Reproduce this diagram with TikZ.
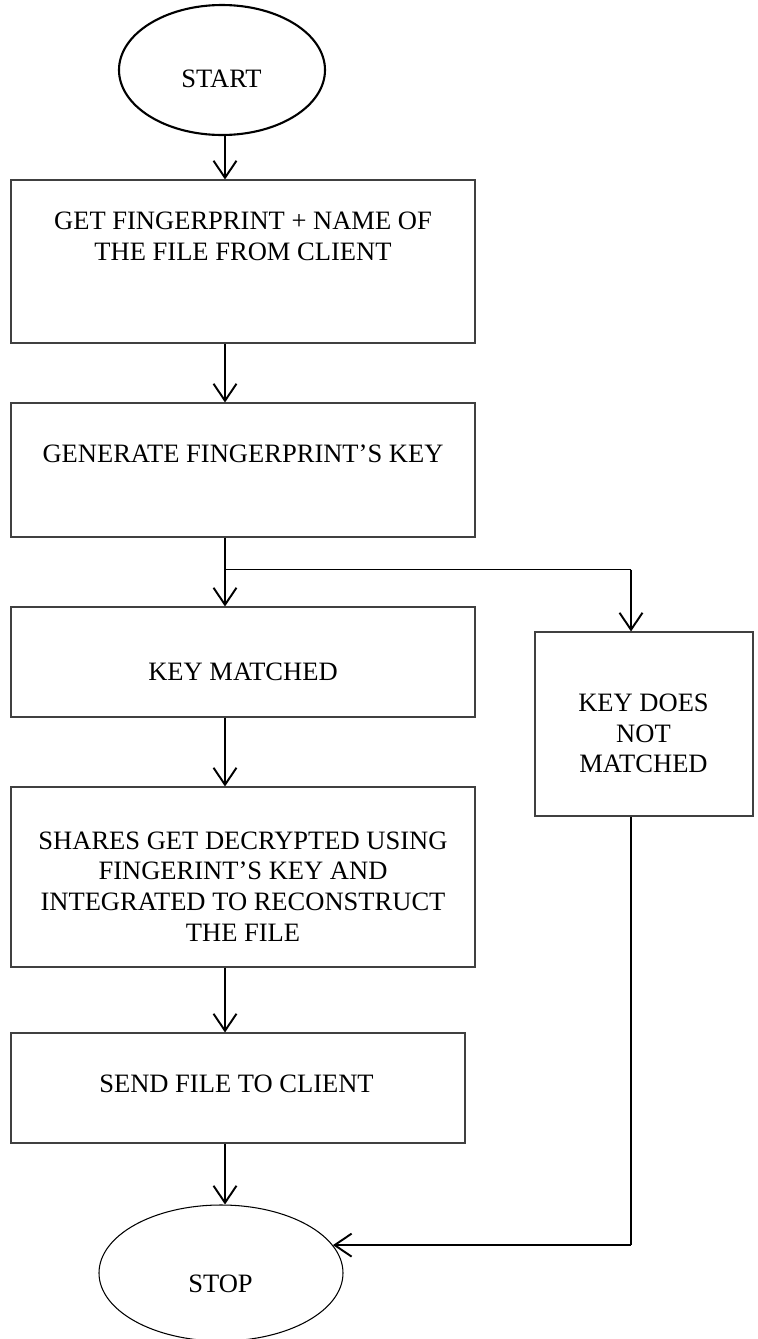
\documentclass[tikz,border=0pt]{standalone}
\usepackage{fontspec}
\setmainfont{Liberation Serif}
\usepackage{tikz}
\usetikzlibrary{shapes.geometric, arrows.meta, positioning, calc}

\begin{document}
\begin{tikzpicture}[
    terminal/.style={ellipse, draw, inner sep=0pt},
    box/.style={rectangle, draw=black!75, line width=0.6pt, inner sep=0pt},
    label/.style={align=center, inner sep=0pt, font=\fontsize{15.1pt}{17.5pt}\selectfont},
    flow/.style={line width=1.1pt, -{Straight Barb[length=3.4mm, width=4.6mm]}},
    link/.style={line width=0.6pt}
]
    \useasboundingbox (0, 0) rectangle (15.16, -26.78);
    \coordinate (spine) at (4.50, 0);

    % Start
    \node[terminal, line width=1.2pt, minimum width=4.12cm, minimum height=2.6cm] (start) at (4.44, -1.40) {};
    \node[label] (startlbl) at (4.43, -1.58) {START};

    % Fingerprint + file name
    \node[box, minimum width=9.28cm, minimum height=3.26cm] (get) at (4.86, -5.23) {};
    \node[label] (getlbl) at (4.86, -4.72) {GET FINGERPRINT + NAME OF\\THE FILE FROM CLIENT};

    % Key generation
    \node[box, minimum width=9.28cm, minimum height=2.68cm] (gen) at (4.86, -9.40) {};
    \node[label] (genlbl) at (4.86, -9.07) {GENERATE FINGERPRINT’S KEY};

    % Matched branch
    \node[box, minimum width=9.28cm, minimum height=2.20cm] (match) at (4.86, -13.24) {};
    \node[label] (matchlbl) at (4.86, -13.43) {KEY MATCHED};

    \node[box, minimum width=9.28cm, minimum height=3.60cm] (decrypt) at (4.86, -17.54) {};
    \node[label] (decryptlbl) at (4.86, -17.73) {SHARES GET DECRYPTED USING\\FINGERINT’S KEY AND\\INTEGRATED TO RECONSTRUCT\\THE FILE};

    \node[box, minimum width=9.08cm, minimum height=2.20cm] (send) at (4.76, -21.76) {};
    \node[label] (sendlbl) at (4.73, -21.68) {SEND FILE TO CLIENT};

    % Not matched branch
    \node[box, minimum width=4.36cm, minimum height=3.68cm] (nomatch) at (12.88, -14.48) {};
    \node[label] (nomatchlbl) at (12.87, -14.67) {KEY DOES\\NOT\\MATCHED};

    % Stop
    \node[terminal, line width=0.6pt, minimum width=4.88cm, minimum height=2.72cm] (stop) at (4.42, -25.46) {};
    \node[label] (stoplbl) at (4.41, -25.68) {STOP};

    % Connectors
    \coordinate (split) at ($(spine |- gen.south) + (0, -0.64)$);
    \coordinate (side) at (12.62, 0 |- split);
    \coordinate (turn) at (side |- stop.14);

    \draw[flow] (start.south -| spine) -- (get.north -| spine);
    \draw[flow] (get.south -| spine) -- (gen.north -| spine);
    \draw[flow] (gen.south -| spine) -- (match.north -| spine);
    \draw[link] (split) -- (side);
    \draw[flow] (side) -- (side |- nomatch.north);
    \draw[flow] (match.south -| spine) -- (decrypt.north -| spine);
    \draw[flow] (decrypt.south -| spine) -- (send.north -| spine);
    \draw[flow] (send.south -| spine) -- (stop.north -| spine);
    \draw[link] (nomatch.south -| side) -- (turn);
    \draw[flow] (turn) -- (stop.14);
\end{tikzpicture}
\end{document}
